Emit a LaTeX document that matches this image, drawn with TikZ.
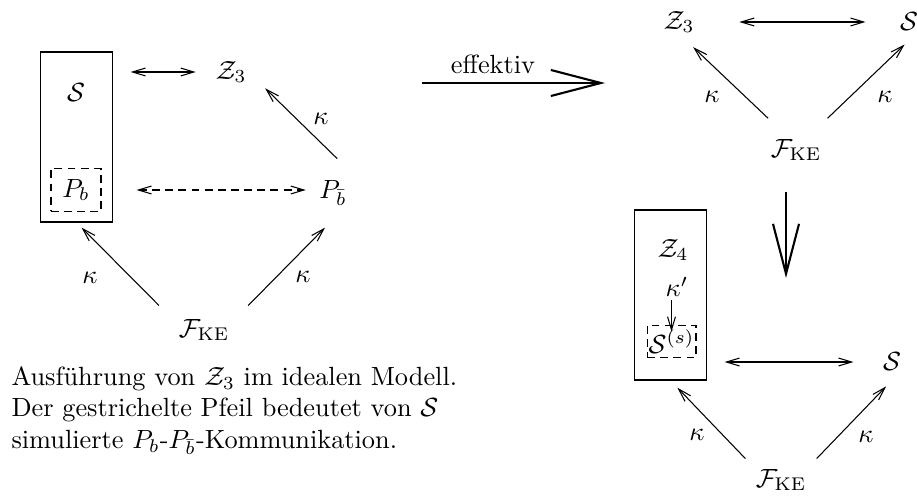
\documentclass[tikz,border=0pt]{standalone}
\usepackage{amsmath,amssymb}
\usepackage{fontspec}
\usetikzlibrary{arrows.meta, positioning}

\begin{document}
\begin{tikzpicture}[x=0.38pt, y=-0.38pt,
  kap/.style={-{Straight Barb[length=5pt,width=3pt]}},
  dbl/.style={{Straight Barb[length=5pt,width=3pt]}-{Straight Barb[length=5pt,width=3pt]}},
  heavy/.style={line width=0.8pt, -{Straight Barb[length=19pt,width=9.9pt]}},
  frame/.style={draw, inner sep=0pt, minimum width=27.7pt, minimum height=64.6pt},
  dbox/.style={draw, dash pattern=on 3pt off 2pt, inner sep=0pt}]
\useasboundingbox (0,0) rectangle (917,501);
% Ideal model: simulator box, Z_3, P_bbar, F_KE
\node[frame] (lbox) at (76.5,137) {};
\node (ls) at (76,93) {$\mathcal{S}$};
\node[dbox, minimum width=19pt, minimum height=16.3pt] (pb) at (76,190) {$P_b$};
\node (lz) at (231,72) {$\mathcal{Z}_3$};
\node (pbb) at (333,193) {$P_{\bar b}$};
\node (lf) at (204,330) {$\mathcal{F}_{\mathrm{KE}}$};
\draw[dbl, shorten <=6.5pt, shorten >=4pt] (lbox.east |- lz) -- (lz.west);
\draw[dbl, dash pattern=on 3pt off 2pt, shorten <=13.3pt, shorten >=1.6pt] (pb.east) -- (pb.east -| pbb.west);
\draw[kap, shorten <=5.7pt, shorten >=2.7pt] (lf.158) -- (lbox.south);
\draw[kap, shorten <=5.2pt, shorten >=7pt] (lf.23) -- (pbb.-77);
\draw[kap, shorten <=7pt, shorten >=5pt] (pbb.51) -- (lz.-16);
\node (lk1) at (90,278) {$\kappa$};
\node (lk2) at (303,277) {$\kappa$};
\node (lk3) at (321,119) {$\kappa$};
% Caption text
\node[anchor=north west, inner sep=0pt, align=left] (capt) at (11,366)
  {Ausführung von $\mathcal{Z}_3$ im idealen Modell.\\
   Der gestrichelte Pfeil bedeutet von $\mathcal{S}$\\
   simulierte $P_b$-$P_{\bar b}$-Kommunikation.};
% effektiv
\coordinate (effa) at (422,83);
\coordinate (effb) at (605,83);
\draw[heavy] (effa) -- (effb);
\node (eff) at (493,64) {effektiv};
% Real model, top triangle
\node (rz) at (679,22) {$\mathcal{Z}_3$};
\node (rs) at (909,22) {$\mathcal{S}$};
\node (rf) at (796,150) {$\mathcal{F}_{\mathrm{KE}}$};
\draw[dbl, shorten <=13.5pt, shorten >=9.6pt] (rz.east) -- (rs.west);
\draw[kap, shorten <=6.3pt, shorten >=2.7pt] (rf.128) -- (rz.-66);
\draw[kap, shorten <=6.3pt, shorten >=2.3pt] (rf.46) -- (rs.south);
\node (rk1) at (712,97) {$\kappa$};
\node (rk2) at (885,97) {$\kappa$};
% Down arrow
\coordinate (dn) at (786,278);
\draw[heavy, shorten <=8.2pt] (dn |- rf.south) -- (dn);
% Real model, bottom triangle
\node[frame] (bbox) at (670.5,295) {};
\node (bz) at (673,250) {$\mathcal{Z}_4$};
\node[inner sep=0pt] (bk) at (677,287) {$\kappa'$};
\node[dbox, minimum width=18.6pt, minimum height=12.5pt] (ss) at (671.5,341.5) {$\mathcal{S}^{(s)}$};
\node (bs) at (892,362) {$\mathcal{S}$};
\node (bf) at (781,480) {$\mathcal{F}_{\mathrm{KE}}$};
\draw[kap, shorten <=1pt, shorten >=-2.7pt] (bk.south -| ss.north) -- (ss.north);
\draw[dbl, shorten <=6.5pt, shorten >=7.7pt] (bbox.east |- bs) -- (bs.west);
\draw[kap, shorten <=0.6pt, shorten >=3.8pt] (bf.north west) -- (bbox.south);
\draw[kap, shorten <=0.6pt, shorten >=3.2pt] (bf.north east) -- (bs.south);
\node (bk1) at (697,435) {$\kappa$};
\node (bk2) at (866,437) {$\kappa$};
\end{tikzpicture}
\end{document}
